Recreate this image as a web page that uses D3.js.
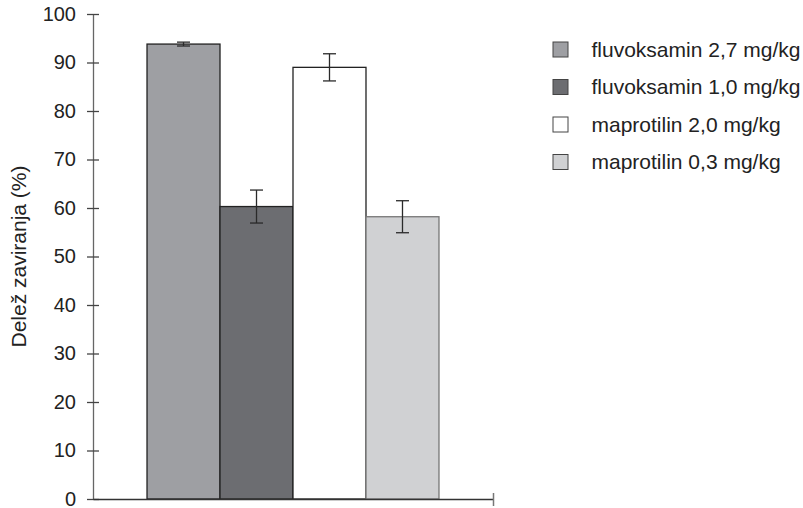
<!DOCTYPE html>
<html>
<head>
<meta charset="utf-8">
<script src="https://cdn.jsdelivr.net/npm/d3@7"></script>
<style>
  html, body { margin: 0; padding: 0; background: #fff; }
  svg { display: block; font-family: "Liberation Sans", Arial, sans-serif; }
</style>
</head>
<body>
<svg id="chart" width="803" height="508"></svg>
<script>
// Treatment groups and measured inhibition (%) with error
const groups = ["fluvoksamin 2,7 mg/kg", "fluvoksamin 1,0 mg/kg", "maprotilin 2,0 mg/kg", "maprotilin 0,3 mg/kg"];
const values = [93.8, 60.3, 89.0, 58.2];
const errors = [0.4, 3.4, 2.8, 3.3];
const fills = ["#9e9fa3", "#6c6d71", "#ffffff", "#d0d1d3"];
const outlines = ["#222222", "#222222", "#222222", "#777777"];
const yTicks = [0, 10, 20, 30, 40, 50, 60, 70, 80, 90, 100];
const yLabel = "Delež zaviranja (%)";

const svg = d3.select("#chart");

const xLeft = 93, xRight = 493, yTop = 14, yBottom = 499;

const y = d3.scaleLinear().domain([0, 100]).range([yBottom, yTop]);
const x = d3.scaleBand().domain(groups).range([xLeft, xRight])
  .paddingInner(0).paddingOuter(0.74);

// Bars
svg.append("g").selectAll("rect")
  .data(groups)
  .join("rect")
  .attr("x", d => x(d))
  .attr("y", (d, i) => y(values[i]))
  .attr("width", x.bandwidth())
  .attr("height", (d, i) => y(0) - y(values[i]))
  .attr("fill", (d, i) => fills[i])
  .attr("stroke", (d, i) => outlines[i])
  .attr("stroke-width", 1.3);

// Error bars
const capW = 13;
const eb = svg.append("g").attr("stroke", "#2a2a2a").attr("stroke-width", 1.3);
groups.forEach((g, i) => {
  const cx = x(g) + x.bandwidth() / 2;
  const top = y(values[i] + errors[i]), bot = y(values[i] - errors[i]);
  eb.append("line").attr("x1", cx).attr("x2", cx).attr("y1", top).attr("y2", bot);
  eb.append("line").attr("x1", cx - capW / 2).attr("x2", cx + capW / 2).attr("y1", top).attr("y2", top);
  eb.append("line").attr("x1", cx - capW / 2).attr("x2", cx + capW / 2).attr("y1", bot).attr("y2", bot);
});

// Y axis with ticks crossing the axis line
const yAxis = svg.append("g")
  .attr("transform", `translate(${xLeft},0)`)
  .call(d3.axisLeft(y).tickValues(yTicks).tickSizeInner(6).tickSizeOuter(0).tickPadding(11));
yAxis.select(".domain").attr("stroke", "#666").attr("stroke-width", 1.3);
yAxis.selectAll(".tick line").attr("x1", 6).attr("x2", -6).attr("stroke", "#444").attr("stroke-width", 1.3);
yAxis.selectAll(".tick text")
  .attr("font-size", 20).attr("fill", "#222")
  .attr("font-family", "Liberation Sans, Arial, sans-serif");

// X axis: baseline with a single end tick
const xs = d3.scaleLinear().domain([0, 1]).range([xLeft, xRight]);
const xAxis = svg.append("g")
  .attr("transform", `translate(0,${yBottom})`)
  .call(d3.axisBottom(xs).tickValues([1]).tickSizeOuter(0).tickSizeInner(7).tickFormat(""));
xAxis.select(".domain").attr("stroke", "#333").attr("stroke-width", 1.3);
xAxis.selectAll(".tick line").attr("y1", -6).attr("y2", 7).attr("stroke", "#777").attr("stroke-width", 1.5);

// Y axis title
svg.append("text")
  .attr("transform", `translate(26,${(yTop + yBottom) / 2}) rotate(-90)`)
  .attr("text-anchor", "middle")
  .attr("font-size", 21)
  .attr("fill", "#222")
  .text(yLabel);

// Legend
const legend = svg.append("g").attr("transform", "translate(553,49.5)");
const rowH = 37.5, sw = 15;
groups.forEach((g, i) => {
  const row = legend.append("g").attr("transform", `translate(0,${i * rowH})`);
  row.append("rect")
    .attr("x", 0).attr("y", -sw / 2)
    .attr("width", sw).attr("height", sw)
    .attr("fill", fills[i]).attr("stroke", "#444").attr("stroke-width", 1);
  row.append("text")
    .attr("x", 38.5).attr("y", 0).attr("dy", "0.35em")
    .attr("font-size", 21).attr("fill", "#222")
    .text(g);
});
</script>
</body>
</html>
